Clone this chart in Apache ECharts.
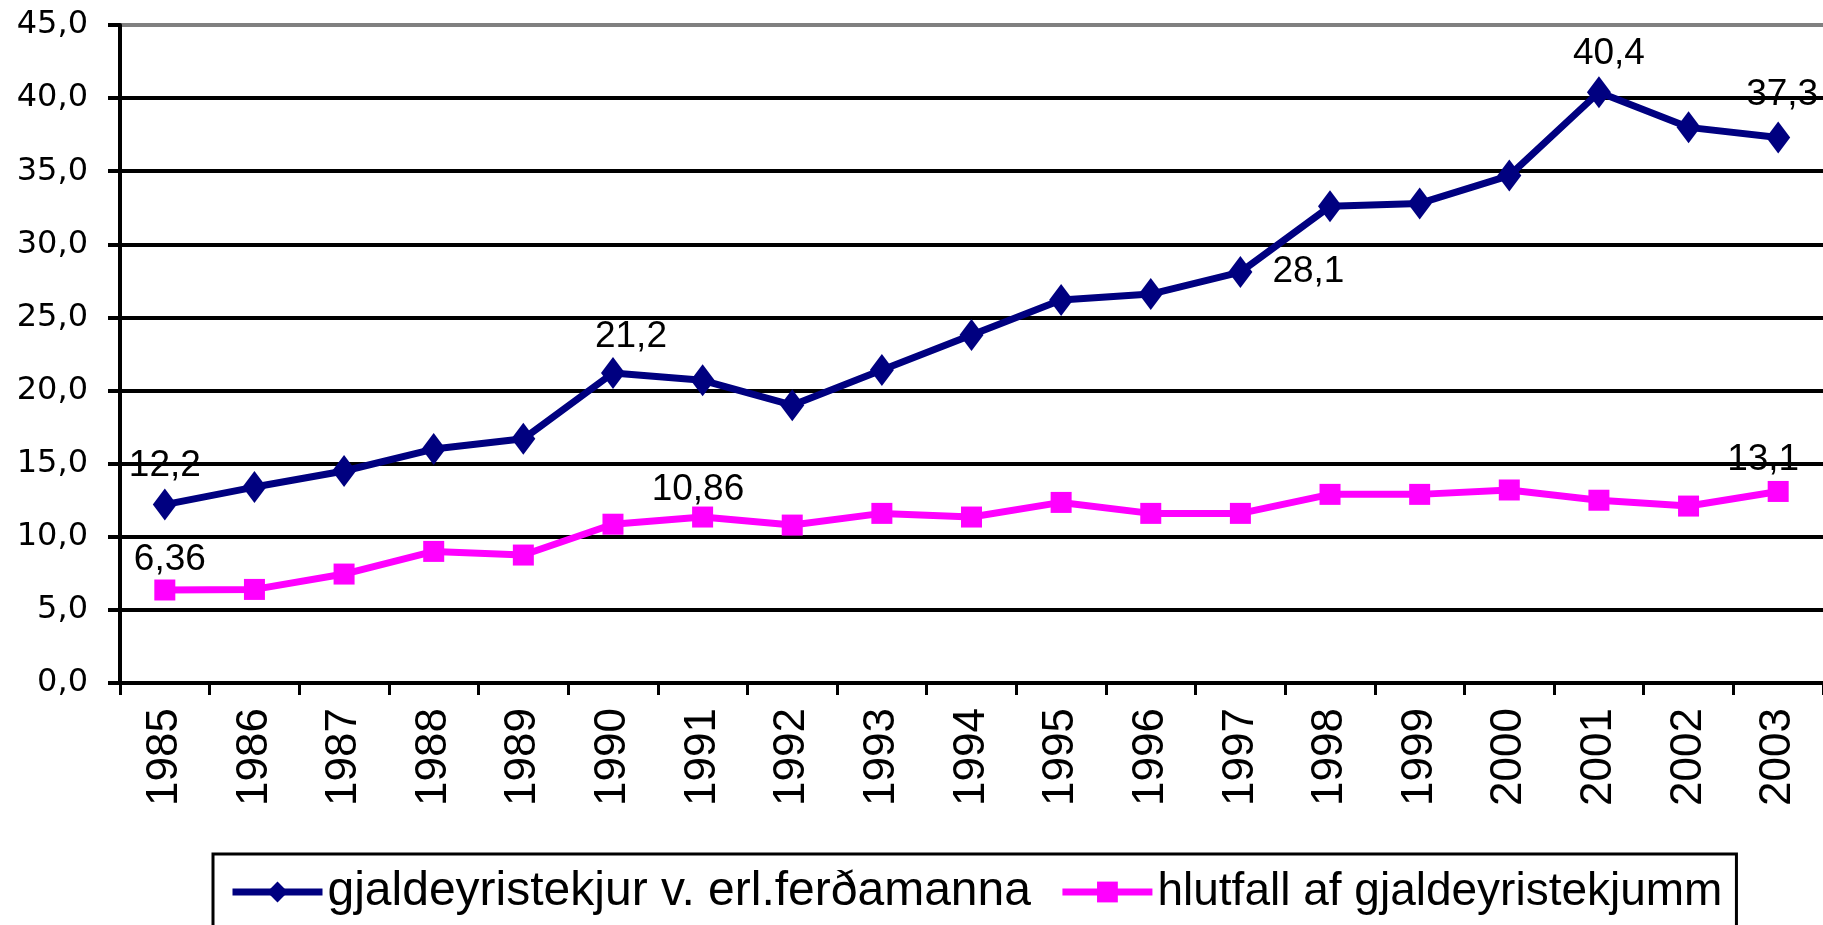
<!DOCTYPE html>
<html>
<head>
<meta charset="utf-8">
<script src="https://cdn.jsdelivr.net/npm/echarts@6/dist/echarts.min.js"></script>
<style>
  html, body { margin: 0; padding: 0; background: #fff; }
  #chart { width: 1823px; height: 925px; }
</style>
</head>
<body>
<div id="chart"></div>
<script>
// years on the x axis
var years = ['1985', '1986', '1987', '1988', '1989', '1990', '1991', '1992', '1993', '1994',
             '1995', '1996', '1997', '1998', '1999', '2000', '2001', '2002', '2003'];

// gjaldeyristekjur v. erl.ferðamanna
var tekjur = [12.2, 13.4, 14.5, 16.0, 16.7, 21.2, 20.7, 19.0, 21.4, 23.8,
              26.2, 26.6, 28.1, 32.6, 32.8, 34.7, 40.4, 38.0, 37.3];

// hlutfall af gjaldeyristekjum
var hlutfall = [6.36, 6.4, 7.45, 9.0, 8.75, 10.86, 11.35, 10.8, 11.6, 11.35,
                12.35, 11.6, 11.6, 12.9, 12.9, 13.2, 12.5, 12.1, 13.1];

var seriesNames = ['gjaldeyristekjur v. erl.ferðamanna', 'hlutfall af gjaldeyristekjumm'];

// which points carry a value label, and where it sits
var tekjurLabels = {
  0: { position: 'top', distance: 4 },
  5: { position: 'top', distance: 2, offset: [18, 0] },
  12: { position: 'right', distance: 20 },
  16: { position: 'top', distance: 4, offset: [10, 0] },
  18: { position: 'top', distance: 8, offset: [4, 0] }
};
var hlutfallLabels = {
  0: { position: 'top', distance: 1, offset: [5, 0] },
  5: { position: 'top', distance: 5, offset: [85, 0] },
  18: { position: 'top', distance: 3, offset: [-15, 0] }
};

function komma(v, d) {
  return (d == null ? String(v) : v.toFixed(d)).replace('.', ',');
}

function buildData(values, labels) {
  return values.map(function (v, i) {
    var item = { value: v };
    if (labels[i]) {
      item.label = Object.assign({ show: true }, labels[i]);
    }
    return item;
  });
}

var chart = echarts.init(document.getElementById('chart'));

var labelFont = {
  color: '#000',
  fontFamily: 'Liberation Sans',
  fontSize: 37,
  formatter: function (p) { return komma(p.value); }
};

// gridlines black, the top one is the grey plot border
var splitColors = ['#000', '#000', '#000', '#000', '#000', '#000', '#000', '#000', '#000', '#808080'];

var option = {
  animation: false,
  backgroundColor: '#fff',
  grid: { left: 120, top: 25, width: 1706, height: 658 },
  legend: {
    left: 213,
    top: 854,
    orient: 'horizontal',
    padding: [14, 14, 40, 16],
    itemGap: 28,
    itemWidth: 90,
    itemHeight: 26,
    borderColor: '#000',
    borderWidth: 3,
    lineStyle: { width: 7 },
    textStyle: { color: '#000', fontFamily: 'Liberation Sans', fontSize: 48 },
    data: [
      { name: seriesNames[0] },
      { name: seriesNames[1], textStyle: { fontSize: 46 } }
    ]
  },
  xAxis: {
    type: 'category',
    data: years,
    boundaryGap: true,
    axisLine: { lineStyle: { color: '#000', width: 4 } },
    axisTick: { show: true, length: 12, lineStyle: { color: '#000', width: 3 } },
    axisLabel: {
      interval: 0,
      rotate: 90,
      margin: 25,
      color: '#000',
      fontFamily: 'Liberation Sans',
      fontSize: 44
    },
    splitLine: { show: false }
  },
  yAxis: {
    type: 'value',
    min: 0,
    max: 45,
    interval: 5,
    axisLine: { show: true, lineStyle: { color: '#000', width: 4 } },
    axisTick: { show: true, length: 12, lineStyle: { color: '#000', width: 4 } },
    axisLabel: {
      margin: 32,
      color: '#000',
      fontFamily: 'DejaVu Sans',
      fontSize: 32,
      formatter: function (v) { return komma(v, 1); }
    },
    splitLine: { show: true, lineStyle: { color: splitColors, width: 4 } }
  },
  series: [
    {
      name: seriesNames[0],
      type: 'line',
      data: buildData(tekjur, tekjurLabels),
      symbol: 'diamond',
      symbolSize: [24, 32],
      color: '#000080',
      lineStyle: { color: '#000080', width: 7 },
      itemStyle: { color: '#000080' },
      label: labelFont,
      z: 3
    },
    {
      name: seriesNames[1],
      type: 'line',
      data: buildData(hlutfall, hlutfallLabels),
      symbol: 'rect',
      symbolSize: 21,
      color: '#FF00FF',
      lineStyle: { color: '#FF00FF', width: 7 },
      itemStyle: { color: '#FF00FF' },
      label: labelFont,
      z: 2
    }
  ]
};

chart.setOption(option);
</script>
</body>
</html>
